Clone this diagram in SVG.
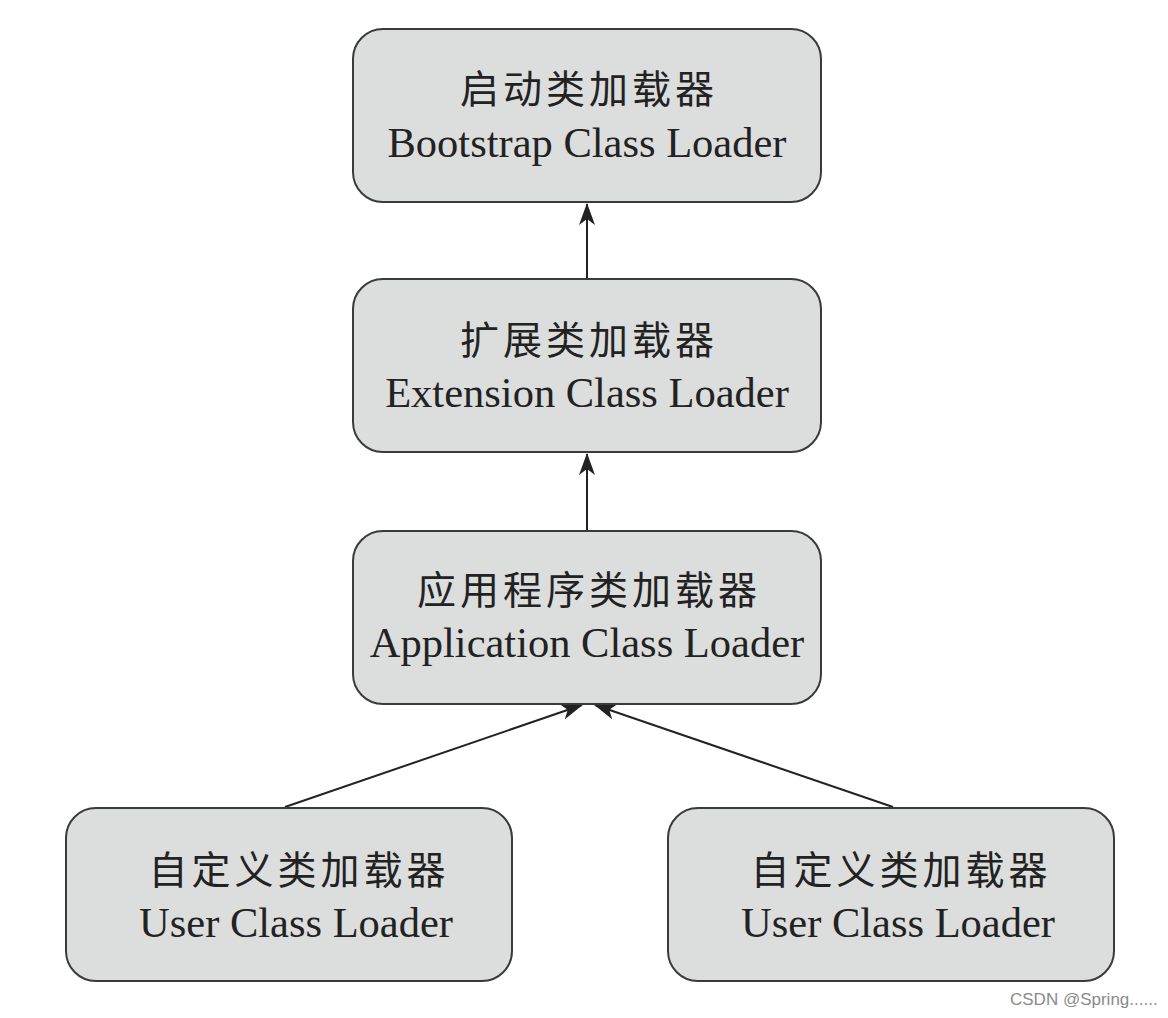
<svg xmlns="http://www.w3.org/2000/svg" width="1168" height="1018" viewBox="0 0 1168 1018">
<style>
.box{fill:#dcdddd;stroke:#3a3a3a;stroke-width:2}
.zh{font-family:"Noto Sans CJK SC",serif;font-size:39px;fill:#222;text-anchor:middle;letter-spacing:4px}
.en{font-family:"Liberation Serif",serif;font-size:42.5px;fill:#222;text-anchor:middle}
.conn{stroke:#222;stroke-width:2;fill:none;marker-end:url(#ah)}
.wm{font-family:"Liberation Sans",sans-serif;font-size:17px;fill:#8a8a8a}
</style>
<defs>
<marker id="ah" markerWidth="22" markerHeight="16" refX="21" refY="8" orient="auto" markerUnits="userSpaceOnUse" viewBox="0 0 22 16">
<path d="M0,0 L22,8 L0,16 L6,8 Z" fill="#222"/>
</marker>
</defs>
<rect width="1168" height="1018" fill="#fff"/>
<g id="connectors">
<line class="conn" x1="587" y1="279" x2="587" y2="204"/>
<line class="conn" x1="587" y1="531" x2="587" y2="454"/>
<line class="conn" x1="285" y1="807" x2="582" y2="705"/>
<line class="conn" x1="893" y1="807" x2="595" y2="705"/>
</g>
<g id="bootstrap">
<rect class="box" x="353" y="29" width="468" height="173" rx="30"/>
<text class="zh" x="589" y="103">启动类加载器</text>
<text class="en" x="587" y="157">Bootstrap Class Loader</text>
</g>
<g id="extension">
<rect class="box" x="353" y="279" width="468" height="173" rx="30"/>
<text class="zh" x="589" y="354">扩展类加载器</text>
<text class="en" x="587" y="407">Extension Class Loader</text>
</g>
<g id="application">
<rect class="box" x="353" y="531" width="468" height="173" rx="30"/>
<text class="zh" x="589" y="604">应用程序类加载器</text>
<text class="en" x="587" y="657">Application Class Loader</text>
</g>
<g id="user1">
<rect class="box" x="66" y="808" width="446" height="173" rx="30"/>
<text class="zh" x="299" y="884">自定义类加载器</text>
<text class="en" x="296" y="937">User Class Loader</text>
</g>
<g id="user2">
<rect class="box" x="668" y="808" width="446" height="173" rx="30"/>
<text class="zh" x="901" y="884">自定义类加载器</text>
<text class="en" x="898" y="937">User Class Loader</text>
</g>
<text class="wm" x="1010" y="1005">CSDN @Spring......</text>
</svg>
